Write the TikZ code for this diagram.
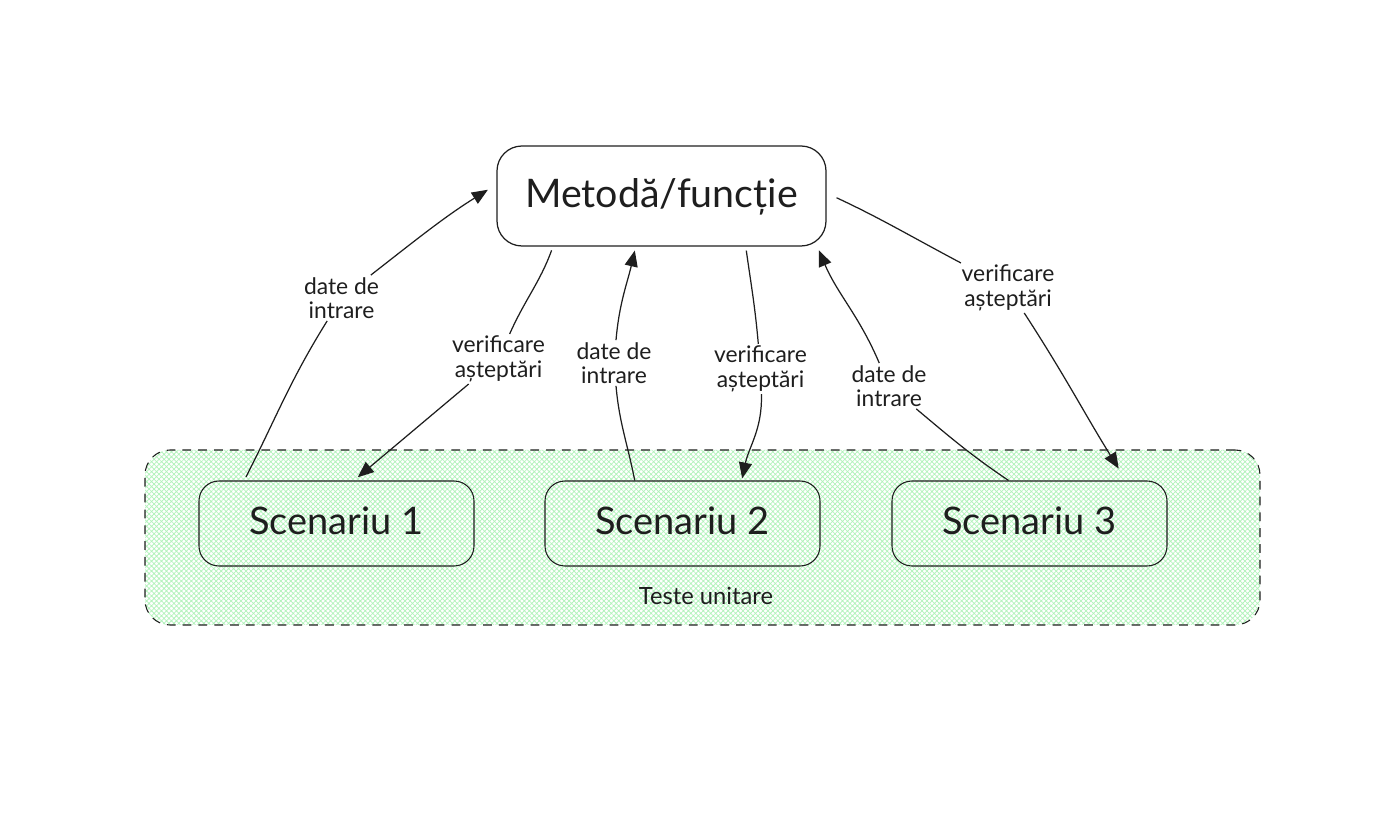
\documentclass[tikz,border=0pt]{standalone}
\usepackage{fontspec}
\setmainfont{Lato}
\usepackage{xcolor}
\usepackage{tikz}
\usetikzlibrary{arrows.meta,patterns.meta}
\definecolor{Ink}{HTML}{1E1E1E}
\definecolor{Hatch}{HTML}{B2F2BB}
\tikzset{
  metbox/.style={draw=Ink,line width=0.7pt,rounded corners=0.5cm,minimum width=6.58cm,minimum height=2cm,font=\fontsize{22.4}{26}\selectfont,text=Ink,text height=15pt,text depth=2.4pt},
  scenbox/.style={draw=Ink,line width=0.6pt,rounded corners=0.4cm,minimum width=5.5cm,minimum height=1.7cm,font=\fontsize{21.6}{26}\selectfont,text=Ink,text height=14pt,text depth=2pt},
  groupbox/.style={draw=Ink,line width=0.6pt,dashed,dash pattern=on 5pt off 4pt,rounded corners=0.5cm,minimum width=22.3cm,minimum height=3.5cm,pattern={Hatch[angle=45,distance=2pt,line width=0.42pt]},pattern color=Hatch},
  lbl/.style={align=center,inner sep=1pt,font=\fontsize{13}{14}\selectfont,text=Ink},
  flow/.style={draw=Ink,line width=0.7pt},
  flowhead/.style={flow,-{Triangle[length=0.32cm,width=0.26cm]}},
}
\begin{document}
\begin{tikzpicture}

    \useasboundingbox (0,0) rectangle (27.88,16.74);

    \node[groupbox] (unit) at (14.05,5.99) {};
    \node[metbox] (met) at (13.23,12.82) {Metodă/funcție};

    \node[scenbox] (scenA) at (6.73,6.27) {Scenariu 1};
    \node[scenbox] (scenB) at (13.65,6.27) {Scenariu 2};
    \node[scenbox] (scenC) at (20.59,6.27) {Scenariu 3};

    \node[lbl,font=\fontsize{13.5}{14}\selectfont] (unitlbl) at (14.12,4.82) {Teste unitare};

    \node[lbl] (dateA) at (6.83,10.78) {date de\\intrare};
    \node[lbl] (verA) at (9.97,9.56) {verificare\\așteptări};
    \node[lbl] (dateB) at (12.28,9.48) {date de\\intrare};
    \node[lbl] (verB) at (15.21,9.36) {verificare\\așteptări};
    \node[lbl] (dateC) at (17.78,9.02) {date de\\intrare};
    \node[lbl] (verC) at (20.16,10.98) {verificare\\așteptări};

    \draw[flow,shorten <=0.08cm] (scenA.155.3) to[out=63,in=-122] (dateA);
    \draw[flowhead,shorten >=0.2cm] (dateA) to[out=38,in=-148] (met.176.5);

    \draw[flow,shorten <=0.08cm] (met.205.5) to[out=-110,in=66] (verA);
    \draw[flowhead,shorten >=0.1cm] (verA) to[out=-140,in=40] (scenA.68);

    \draw[flow] (scenB.138) to[out=101,in=-85] (dateB);
    \draw[flowhead,shorten >=0.08cm] (dateB) to[out=85,in=-103] (met.243);

    \draw[flow,shorten <=0.08cm] (met.329) to[out=-82,in=95] (verB);
    \draw[flowhead,shorten >=0.04cm] (verB) to[out=-88,in=78] (scenB.36);

    \draw[flow] (scenC.116.8) to[out=146,in=-40] (dateC);
    \draw[flowhead,shorten >=0.08cm] (dateC) to[out=113,in=-67] (met.342.5);

    \draw[flow,shorten <=0.22cm] (met.1.7) to[out=-25,in=152] (verC);
    \draw[flowhead,shorten >=0.28cm] (verC) to[out=-57,in=122] (scenC.24.3);

\end{tikzpicture}
\end{document}
